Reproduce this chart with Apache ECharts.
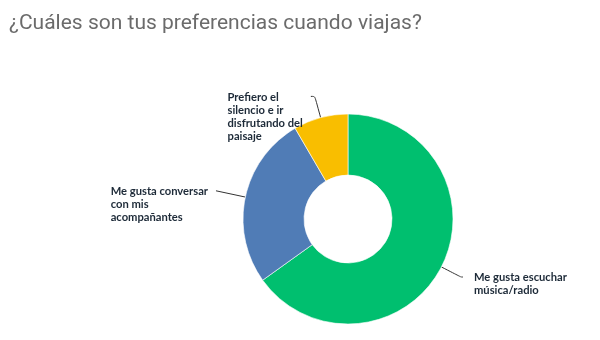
<!DOCTYPE html>
<html>
<head>
<meta charset="utf-8">
<script src="https://cdn.jsdelivr.net/npm/echarts@6/dist/echarts.min.js"></script>
<style>
  html, body { margin: 0; padding: 0; background: #fff; }
  #chart { width: 600px; height: 340px; }
</style>
</head>
<body>
<div id="chart"></div>
<script>
// Survey question and answers
var titleText = '¿Cuáles son tus preferencias cuando viajas?';
var categories = [
  'Me gusta escuchar\nmúsica/radio',
  'Me gusta conversar\ncon mis\nacompañantes',
  'Prefiero el\nsilencio e ir\ndisfrutando del\npaisaje'
];
// Share of respondents (%)
var shares = [65.1, 26.5, 8.4];
var colors = ['#00bf6f', '#507cb6', '#f9be00'];

// Leader line shape per answer: [length, length2]
var lineLengths = [[22, 2], [30, 0], [22, 4]];

var chart = echarts.init(document.getElementById('chart'), null, { renderer: 'canvas' });

var data = categories.map(function (name, i) {
  return {
    name: name,
    value: shares[i],
    itemStyle: { color: colors[i] },
    labelLine: { length: lineLengths[i][0], length2: lineLengths[i][1] }
  };
});

chart.setOption({
  animation: false,
  title: {
    text: titleText,
    left: 4,
    top: 8,
    textStyle: {
      fontFamily: 'Roboto',
      fontWeight: 'normal',
      fontSize: 21,
      color: '#6b6b6b'
    }
  },
  series: [{
    type: 'pie',
    center: [348, 219],
    radius: [44, 105],
    startAngle: 90,
    clockwise: true,
    avoidLabelOverlap: false,
    itemStyle: { borderColor: '#ffffff', borderWidth: 0.6 },
    label: {
      show: true,
      position: 'outside',
      formatter: '{b}',
      fontFamily: 'Lato',
      fontWeight: 'bold',
      fontSize: 11.2,
      lineHeight: 13,
      color: '#1d2a38'
    },
    labelLine: {
      show: true,
      smooth: 0.3,
      lineStyle: { color: '#333333', width: 1 }
    },
    labelLayout: function (p) {
      var pts = p.labelLinePoints;
      if (!pts) { return {}; }
      var end = pts[pts.length - 1];
      var onLeft = end[0] < pts[0][0];
      return {
        x: onLeft ? end[0] - 8 - p.labelRect.width : end[0] + 11,
        y: end[1] - 6,
        align: 'left',
        verticalAlign: 'top',
        labelLinePoints: pts
      };
    },
    data: data
  }]
});
</script>
</body>
</html>
